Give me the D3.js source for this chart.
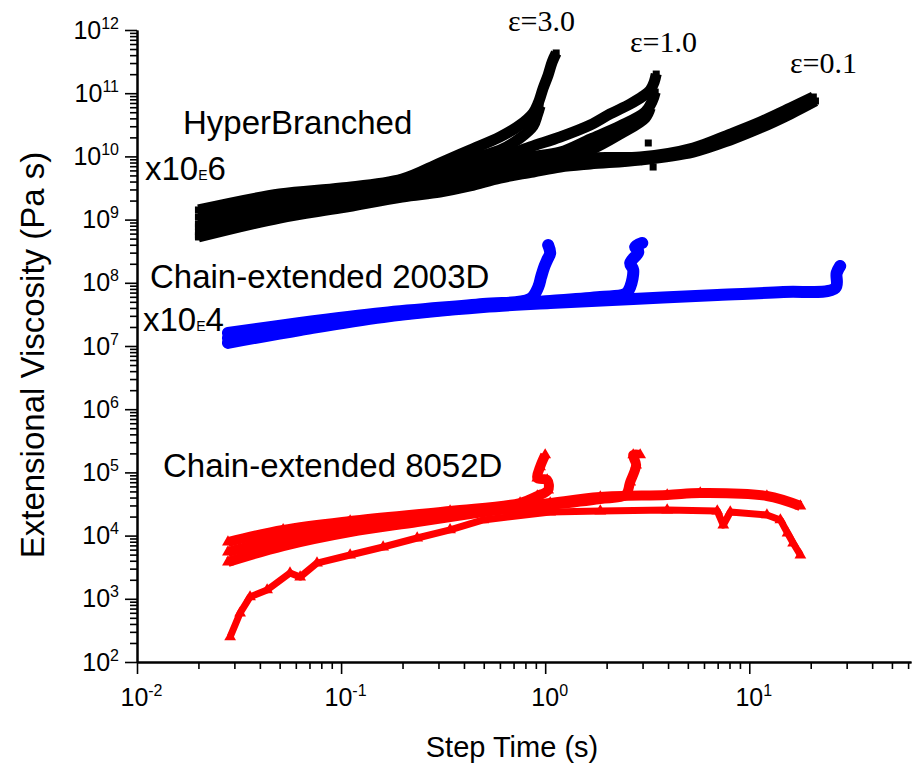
<!DOCTYPE html>
<html><head><meta charset="utf-8">
<script src="https://cdn.jsdelivr.net/npm/d3@7"></script>
<style>body{margin:0;background:#fff}svg{display:block}</style>
</head><body>
<svg id="chart" width="913" height="768"></svg>
<script>
// ---- Data: [step time (s), extensional viscosity (Pa s)] ----
// HyperBranched (x10E6)
const hb_e3a = [[0.020,1.42e9],[0.050,2.54e9],[0.100,3.16e9],[0.199,4.39e9],[0.305,7.87e9],[0.428,1.26e10],[0.601,2.03e10],[0.753,3.14e10],[0.873,4.86e10],[0.925,7.00e10],[0.978,1.21e11],[1.034,1.94e11],[1.082,3.12e11],[1.132,4.33e11]];
const hb_e3b = [[0.020,1.10e9],[0.050,2.04e9],[0.100,2.64e9],[0.199,3.66e9],[0.305,6.09e9],[0.428,9.10e9],[0.601,1.26e10],[0.753,1.95e10],[0.873,3.03e10],[0.915,4.52e10],[0.944,6.27e10]];
const hb_e1a = [[0.020,8.51e8],[0.050,1.64e9],[0.100,2.20e9],[0.199,3.16e9],[0.305,4.72e9],[0.428,6.79e9],[0.601,9.44e9],[0.843,1.41e10],[1.185,2.03e10],[1.663,3.14e10],[2.08,4.69e10],[2.61,6.75e10],[3.02,9.03e10],[3.27,1.12e11],[3.42,1.50e11],[3.50,2.01e11]];
const hb_e1b = [[0.020,7.64e8],[0.050,1.47e9],[0.100,2.04e9],[0.199,2.94e9],[0.305,4.08e9],[0.428,5.66e9],[0.601,7.59e9],[0.843,9.79e9],[1.185,1.17e10],[1.663,1.88e10],[2.33,3.03e10],[3.09,5.04e10],[3.35,7.53e10],[3.46,1.04e11]];
const hb_e1c = [[0.020,6.37e8],[0.050,1.23e9],[0.100,1.77e9],[0.199,2.54e9],[0.305,3.40e9],[0.428,4.55e9],[0.601,6.09e9],[0.843,7.05e9],[1.185,8.77e9],[1.663,1.26e10],[2.33,2.26e10],[3.09,4.05e10],[3.27,5.83e10]];
const hb_e01a = [[0.020,5.31e8],[0.050,1.06e9],[0.100,1.53e9],[0.199,2.28e9],[0.305,2.73e9],[0.428,3.40e9],[0.601,4.55e9],[0.873,5.66e9],[1.185,6.79e9],[1.663,7.59e9],[2.92,8.77e9],[5.31,1.17e10],[8.07,1.82e10],[11.3,2.81e10],[15.9,4.69e10],[21.1,7.53e10]];
const hb_e01b = [[0.020,5.70e8],[0.050,1.14e9],[0.100,1.64e9],[0.199,2.45e9],[0.305,3.05e9],[0.428,3.94e9],[0.601,5.08e9],[0.873,6.32e9],[1.185,7.87e9],[1.663,9.44e9],[2.92,9.79e9],[5.31,1.36e10],[8.07,2.26e10],[11.3,3.50e10],[15.9,5.83e10],[20.6,8.71e10]];
const hb_points = [[3.20,1.63e10],[3.38,6.79e9]];

// Chain-extended 2003D (x10E4)
const ce2003_e3 = [[0.0279,1.61e7],[0.063,2.31e7],[0.161,3.33e7],[0.497,4.62e7],[0.843,5.54e7],[0.925,8.59e7],[0.955,1.24e8],[0.989,1.78e8],[1.023,2.30e8],[1.058,2.96e8],[1.034,3.96e8]];
const ce2003_e1 = [[0.0279,1.34e7],[0.063,2.00e7],[0.161,2.98e7],[0.497,4.30e7],[1.058,5.15e7],[1.862,5.96e7],[2.47,6.65e7],[2.61,8.59e7],[2.70,1.60e8],[2.61,2.06e8],[2.86,3.07e8],[2.76,3.68e8],[2.99,4.27e8]];
const ce2003_e01 = [[0.0279,1.12e7],[0.063,1.79e7],[0.161,2.88e7],[0.497,4.14e7],[1.058,4.79e7],[2.70,5.54e7],[6.97,6.41e7],[14.7,7.15e7],[26.4,8.28e7],[26.8,1.43e8],[27.9,1.85e8]];

// Chain-extended 8052D
const ce8052_e3 = [[0.0279,7.92e3],[0.052,1.23e4],[0.1107,1.70e4],[0.342,2.45e4],[0.753,3.28e4],[0.915,4.23e4],[1.034,5.27e4],[1.023,7.58e4],[0.915,8.15e4],[0.944,1.22e5],[1.0,1.89e5]];
const ce8052_e1 = [[0.0279,5.50e3],[0.052,9.16e3],[0.1107,1.37e4],[0.342,2.12e4],[1.058,3.05e4],[1.862,3.79e4],[2.47,4.39e4],[2.61,7.05e4],[2.79,1.31e5],[2.70,1.89e5],[2.92,1.89e5]];
const ce8052_e01 = [[0.0279,3.82e3],[0.052,6.84e3],[0.1107,1.14e4],[0.236,1.64e4],[0.497,2.36e4],[1.058,3.28e4],[1.862,4.08e4],[3.96,4.39e4],[5.75,4.72e4],[12.2,4.23e4],[17.8,2.94e4]];
const ce8052_low = [[0.0286,249],[0.032,596],[0.0358,1.07e3],[0.0434,1.38e3],[0.0562,2.56e3],[0.063,2.21e3],[0.0762,3.68e3],[0.1107,4.93e3],[0.1607,6.60e3],[0.236,9.16e3],[0.342,1.23e4],[0.497,1.77e4],[1.058,2.36e4],[1.862,2.45e4],[3.96,2.54e4],[6.97,2.45e4],[7.46,1.47e4],[8.07,2.36e4],[12.2,2.12e4],[14.2,1.77e4],[15.4,1.10e4],[16.4,7.64e3],[17.8,4.93e3]];

// Axes
const xDomain = [0.01, 62];
const yDomain = [1e2, 1e12];
const xDecades = [-2, -1, 0, 1];
const yDecades = [2,3,4,5,6,7,8,9,10,11,12];

const svg = d3.select('#chart');
const sans = '"Liberation Sans", Arial, Helvetica, sans-serif';
const serif = '"Liberation Serif", "Times New Roman", serif';

const x = d3.scaleLog().domain(xDomain).range([137, 911]);
const y = d3.scaleLog().domain(yDomain).range([662, 30]);

const xMinor = [];
for (let k = -2; k <= 1; k++) for (let m = 2; m <= 9; m++) { const v = m * Math.pow(10, k); if (v <= xDomain[1]) xMinor.push(v); }
const yMinor = [];
for (let k = 2; k <= 11; k++) for (let m = 2; m <= 9; m++) yMinor.push(m * Math.pow(10, k));

function styleAxis(g) {
  g.selectAll('.domain').attr('stroke', '#000').attr('stroke-width', 2);
  g.selectAll('.tick line').attr('stroke', '#000').attr('stroke-width', 1.6);
}
function supLabel(sel, size, supSize, supDy, dx) {
  sel.selectAll('.tick text').each(function (d) {
    const t = d3.select(this);
    const e = Math.round(Math.log10(d));
    t.text(null).attr('font-family', sans).attr('font-size', size).attr('fill', '#000');
    if (dx) t.attr('dx', dx);
    t.append('tspan').text('10');
    t.append('tspan').attr('font-size', supSize).attr('dy', supDy).text(String(e));
  });
}

const gxMin = svg.append('g').attr('transform', 'translate(0,662)')
  .call(d3.axisBottom(x).tickValues(xMinor).tickSize(7).tickSizeOuter(0).tickFormat(''));
styleAxis(gxMin);
const gx = svg.append('g').attr('transform', 'translate(0,662)')
  .call(d3.axisBottom(x).tickValues(xDecades.map(k => Math.pow(10, k))).tickSize(12).tickSizeOuter(0).tickPadding(14));
styleAxis(gx);
supLabel(gx, 25, 16, -10, 4);

const gyMin = svg.append('g').attr('transform', 'translate(137,0)')
  .call(d3.axisLeft(y).tickValues(yMinor).tickSize(7).tickSizeOuter(0).tickFormat(''));
styleAxis(gyMin);
const gy = svg.append('g').attr('transform', 'translate(137,0)')
  .call(d3.axisLeft(y).tickValues(yDecades.map(k => Math.pow(10, k))).tickSize(12).tickSizeOuter(0).tickPadding(6));
styleAxis(gy);
supLabel(gy, 25, 16, -10, 0);

// Axis titles
svg.append('text').attr('x', 512).attr('y', 757).attr('text-anchor', 'middle')
  .attr('font-family', sans).attr('font-size', 29).text('Step Time (s)');
svg.append('text').attr('transform', 'translate(44,355) rotate(-90)').attr('text-anchor', 'middle')
  .attr('font-family', sans).attr('font-size', 33).text('Extensional Viscosity (Pa s)');

// Series drawing
const smooth = d3.line().x(d => x(d[0])).y(d => y(d[1])).curve(d3.curveCatmullRom.alpha(0.5));
const straight = d3.line().x(d => x(d[0])).y(d => y(d[1]));
const plot = svg.append('g');
function drawSeries(data, color, width, symbol, size, cap, gen) {
  plot.append('path').datum(data).attr('d', gen || smooth)
    .attr('fill', 'none').attr('stroke', color).attr('stroke-width', width)
    .attr('stroke-linejoin', 'round').attr('stroke-linecap', cap);
  plot.append('g').selectAll('path').data(data).join('path')
    .attr('transform', d => `translate(${x(d[0])},${y(d[1])})`)
    .attr('d', d3.symbol(symbol, size)()).attr('fill', color);
}
const black = '#000000', blue = '#0000ff', red = '#ff0000';
[hb_e01a, hb_e01b, hb_e1c, hb_e1b, hb_e1a, hb_e3b, hb_e3a].forEach(s => drawSeries(s, black, 11, d3.symbolSquare, 49, 'butt'));
plot.append('g').selectAll('path').data(hb_points).join('path')
  .attr('transform', d => `translate(${x(d[0])},${y(d[1])})`)
  .attr('d', d3.symbol(d3.symbolSquare, 49)()).attr('fill', black);

[ce2003_e01, ce2003_e1, ce2003_e3].forEach(s => drawSeries(s, blue, 12, d3.symbolCircle, 90, 'round'));

drawSeries(ce8052_low, red, 7, d3.symbolTriangle, 60, 'butt', straight);
[ce8052_e01, ce8052_e1, ce8052_e3].forEach(s => drawSeries(s, red, 10, d3.symbolTriangle, 60, 'butt'));

// Annotations
function ann(xp, yp, txt, size, fam) {
  return svg.append('text').attr('x', xp).attr('y', yp).attr('font-family', fam || sans).attr('font-size', size).attr('fill', '#000').text(txt);
}
ann(183, 134, 'HyperBranched', 33);
ann(150, 288, 'Chain-extended 2003D', 33);
ann(163, 477, 'Chain-extended 8052D', 33);
function mult(xp, yp, exp) {
  const t = svg.append('text').attr('x', xp).attr('y', yp).attr('font-family', sans).attr('font-size', 33).attr('fill', '#000');
  t.append('tspan').text('x10');
  t.append('tspan').attr('font-size', 14).text('E');
  t.append('tspan').text(exp);
}
mult(145, 180, '6');
mult(143, 331, '4');
ann(508, 31, 'ε=3.0', 30, serif);
ann(630, 52, 'ε=1.0', 30, serif);
ann(790, 73, 'ε=0.1', 30, serif);
</script>
</body></html>
